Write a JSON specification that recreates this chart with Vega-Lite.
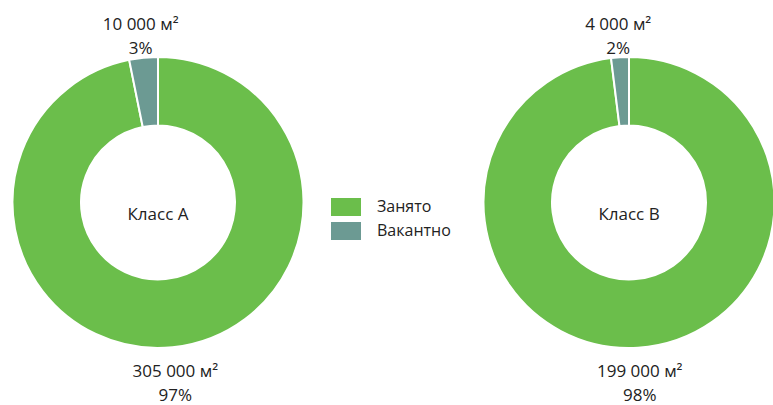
{
  "$schema": "https://vega.github.io/schema/vega-lite/v6.json",
  "width": 773,
  "height": 405,
  "autosize": {"type": "fit", "contains": "padding"},
  "padding": 0,
  "background": "white",
  "config": {"view": {"stroke": null}, "font": "Open Sans"},
  "data": {
    "values": [
      {"class": "Класс А", "status": "Занято", "order": 1, "value": 305000, "label": ["305 000 м²", "97%"]},
      {"class": "Класс А", "status": "Вакантно", "order": 2, "value": 10000, "label": ["10 000 м²", "3%"]},
      {"class": "Класс В", "status": "Занято", "order": 1, "value": 199000, "label": ["199 000 м²", "98%"]},
      {"class": "Класс В", "status": "Вакантно", "order": 2, "value": 4000, "label": ["4 000 м²", "2%"]}
    ]
  },
  "transform": [
    {"stack": "value", "groupby": ["class"], "sort": [{"field": "order", "order": "ascending"}], "offset": "normalize", "as": ["v0", "v1"]},
    {"calculate": "(datum.v0 + datum.v1) / 2", "as": "mid"}
  ],
  "encoding": {
    "x": {"field": "class", "type": "nominal", "scale": {"type": "point", "range": [158, 629], "padding": 0}, "axis": null}
  },
  "layer": [
    {
      "mark": {"type": "arc", "radius": 145.5, "radius2": 77, "stroke": "white", "strokeWidth": 2},
      "encoding": {
        "theta": {"field": "v0", "type": "quantitative", "stack": null, "scale": {"domain": [0, 1], "range": [0, 6.283185307179586]}},
        "theta2": {"field": "v1"},
        "color": {
          "field": "status",
          "type": "nominal",
          "scale": {"domain": ["Занято", "Вакантно"], "range": ["#6BBE4B", "#6C9A93"]},
          "legend": {
            "orient": "none",
            "legendX": 331,
            "legendY": 192,
            "title": null,
            "padding": 0,
            "symbolType": "M-1,-0.6L1,-0.6L1,0.6L-1,0.6Z",
            "symbolSize": 900,
            "symbolStrokeWidth": 0,
            "symbolOpacity": 1,
            "labelFontSize": 16,
            "labelFont": "Open Sans",
            "labelColor": "#222222",
            "labelOffset": 16,
            "rowPadding": -6
          }
        }
      }
    },
    {
      "mark": {"type": "text", "radius": 174, "dy": -4, "fontSize": 17, "lineHeight": 24, "color": "#222222"},
      "encoding": {
        "theta": {"field": "mid", "type": "quantitative", "stack": null},
        "text": {"field": "label"}
      }
    },
    {
      "transform": [{"filter": "datum.status === 'Занято'"}],
      "mark": {"type": "text", "fontSize": 17, "dy": 12, "color": "#222222"},
      "encoding": {"text": {"field": "class"}}
    }
  ]
}
